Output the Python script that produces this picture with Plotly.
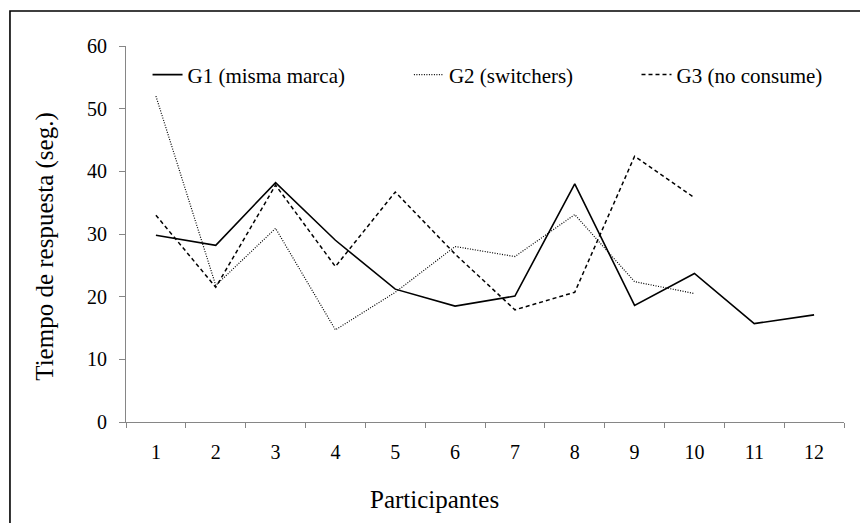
import plotly.graph_objects as go

participantes = list(range(1, 13))
tick_labels = [str(i) for i in participantes]

g1_label = "G1 (misma marca)"
g2_label = "G2 (switchers)"
g3_label = "G3 (no consume)"

g1 = [29.8, 28.2, 38.2, 29.0, 21.2, 18.5, 20.1, 38.0, 18.6, 23.7, 15.7, 17.1]
g2 = [52.0, 21.8, 30.9, 14.7, 20.7, 28.0, 26.4, 33.1, 22.4, 20.5]
g3 = [33.0, 21.5, 37.8, 24.8, 36.7, 26.8, 17.9, 20.7, 42.4, 35.8]

y_ticks = [0, 10, 20, 30, 40, 50, 60]

FONT = "'Liberation Serif', 'Times New Roman', serif"
AXIS_GREY = "#868686"

fig = go.Figure()
fig.add_trace(go.Scatter(x=participantes[:len(g1)], y=g1, mode="lines", name=g1_label,
                         line=dict(color="black", width=1.6), legend="legend"))
fig.add_trace(go.Scatter(x=participantes[:len(g2)], y=g2, mode="lines", name=g2_label,
                         line=dict(color="black", width=1.2, dash="1px,1.5px"), legend="legend2"))
fig.add_trace(go.Scatter(x=participantes[:len(g3)], y=g3, mode="lines", name=g3_label,
                         line=dict(color="black", width=1.5, dash="4px,3px"), legend="legend3"))

leg_common = dict(orientation="h", bgcolor="rgba(0,0,0,0)", font=dict(family=FONT, size=21, color="black"),
                  yanchor="middle", xanchor="left", y=0.923)

fig.update_layout(
    width=860, height=523,
    margin=dict(l=126, r=16, t=46, b=101),
    paper_bgcolor="white", plot_bgcolor="white",
    font=dict(family=FONT, color="black"),
    showlegend=True,
    legend=dict(**leg_common, x=0.030),
    legend2=dict(**leg_common, x=0.394),
    legend3=dict(**leg_common, x=0.711),
    xaxis=dict(
        range=[0.5, 12.5], tickmode="array", tickvals=participantes, ticktext=tick_labels,
        ticks="", showgrid=False, zeroline=False,
        showline=True, linecolor=AXIS_GREY, linewidth=1,
        tickfont=dict(family=FONT, size=20, color="black"),
        ticklabelstandoff=12,
        minor=dict(tickmode="array", tickvals=[i + 0.5 for i in range(0, 13)],
                   ticks="outside", ticklen=5, tickcolor=AXIS_GREY, tickwidth=1, showgrid=False),
        fixedrange=True,
    ),
    yaxis=dict(
        range=[0, 60], tickmode="array", tickvals=y_ticks,
        ticks="outside", ticklen=6, tickcolor=AXIS_GREY, tickwidth=1,
        showgrid=False, zeroline=False,
        showline=True, linecolor=AXIS_GREY, linewidth=1,
        tickfont=dict(family=FONT, size=20, color="black"),
        ticklabelstandoff=8,
        fixedrange=True,
    ),
    annotations=[
        dict(text="Participantes", xref="paper", yref="paper", x=0.4297, y=-0.205,
             xanchor="center", yanchor="middle", showarrow=False,
             font=dict(family=FONT, size=25, color="black")),
        dict(text="Tiempo de respuesta (seg.)", xref="paper", yref="paper", x=-0.112, y=0.465,
             xanchor="center", yanchor="middle", showarrow=False, textangle=-90,
             font=dict(family=FONT, size=25, color="black")),
    ],
    shapes=[
        dict(type="rect", xref="paper", yref="paper", x0=-0.1616, y0=-0.35, x1=1.1, y1=1.093,
             line=dict(color="black", width=1.6), fillcolor="rgba(0,0,0,0)", layer="below"),
    ],
)

fig.write_html("out.html", config={"displayModeBar": False},
               post_script="document.body.style.margin='0';document.body.style.overflow='hidden';")
